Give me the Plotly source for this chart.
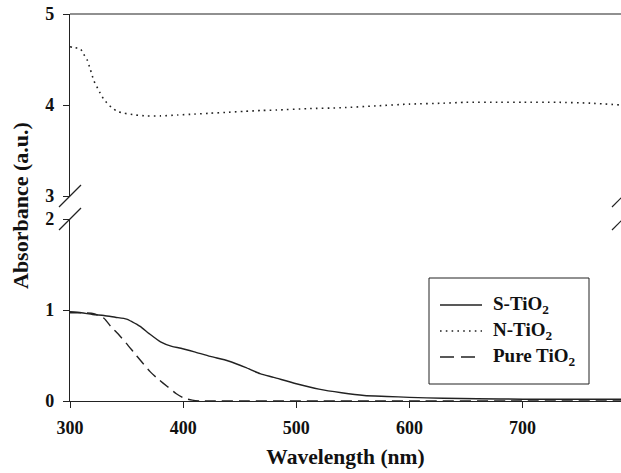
import plotly.graph_objects as go

# UV-Vis absorbance spectra (wavelength in nm)
s_wl = [300, 310, 320, 330, 340, 350, 355, 362, 370, 380, 390, 398, 410, 424, 440, 455, 468, 480,
        500, 520, 540, 560, 580, 600, 630, 660, 700, 740, 787]
s_abs = [0.98, 0.97, 0.95, 0.94, 0.92, 0.90, 0.87, 0.82, 0.74, 0.65, 0.60, 0.58, 0.54, 0.49, 0.44,
         0.37, 0.30, 0.26, 0.19, 0.13, 0.09, 0.06, 0.05, 0.04, 0.03, 0.025, 0.02, 0.02, 0.02]

n_wl = [300, 303, 309, 312, 315, 318, 321, 325, 330, 337, 342, 348, 358, 367, 380, 395, 410, 424,
        440, 454, 470, 483, 510, 540, 570, 600, 630, 650, 680, 700, 730, 760, 787]
n_abs = [4.64, 4.63, 4.62, 4.56, 4.50, 4.39, 4.27, 4.17, 4.06, 3.97, 3.93, 3.91, 3.89, 3.88, 3.88,
         3.89, 3.90, 3.91, 3.92, 3.93, 3.94, 3.945, 3.96, 3.97, 3.99, 4.01, 4.02, 4.03, 4.03, 4.03,
         4.03, 4.02, 4.0]

p_wl = [300, 310, 321, 330, 336, 343, 350, 356, 362, 371, 378, 386, 394, 401, 408, 415, 425, 450,
        500, 600, 700, 787]
p_abs = [0.97, 0.97, 0.96, 0.91, 0.82, 0.73, 0.63, 0.54, 0.45, 0.32, 0.24, 0.16, 0.08, 0.03, 0.01,
         0.0, 0.0, 0.0, 0.0, 0.0, 0.0, 0.0]

series_names = ["S-TiO<sub>2</sub>", "N-TiO<sub>2</sub>", "Pure TiO<sub>2</sub>"]

x_ticks = [300, 400, 500, 600, 700]
y_low_ticks = [0, 1, 2]
y_high_ticks = [3, 4, 5]

FONT = "Liberation Serif"
INK = "#222222"
TXT = "#111111"

styles = [
    dict(color=INK, width=1.4),
    dict(color=INK, width=1.6, dash="1.6px,4.2px"),
    dict(color=INK, width=1.4, dash="11px,6px"),
]
legend_dash = [None, "1.6px,4.2px", "14px,7px"]

fig = go.Figure()
fig.add_trace(go.Scatter(x=s_wl, y=s_abs, mode="lines", name=series_names[0],
                         line=dict(**styles[0], shape="spline", smoothing=0.6),
                         xaxis="x", yaxis="y"))
fig.add_trace(go.Scatter(x=n_wl, y=n_abs, mode="lines", name=series_names[1],
                         line=dict(**styles[1], shape="spline", smoothing=0.6),
                         xaxis="x", yaxis="y2"))
fig.add_trace(go.Scatter(x=p_wl, y=p_abs, mode="lines", name=series_names[2],
                         line=dict(**styles[2], shape="spline", smoothing=0.6),
                         xaxis="x", yaxis="y"))

# plot area in pixels
L, T, W, H = 70, 14, 551, 387
gap_lo = 182 / H
gap_hi = 205 / H


def px(x):
    return (x - L) / W


def py(y):
    return 1 - (y - T) / H


tick_font = dict(family=FONT, size=18, color=TXT, weight="bold")
axis_common = dict(showline=True, linecolor=INK, linewidth=1.2, ticks="outside", ticklen=6,
                   tickcolor=INK, showgrid=False, zeroline=False, tickfont=tick_font)

fig.update_layout(
    width=621, height=473,
    margin=dict(l=L, r=621 - L - W, t=T, b=473 - T - H),
    paper_bgcolor="white", plot_bgcolor="white",
    font=dict(family=FONT, color=TXT),
    showlegend=False,
    xaxis=dict(range=[300, 787], tickvals=x_ticks, anchor="y", ticklabelstandoff=4,
               title=dict(text="Wavelength (nm)", font=dict(family=FONT, size=21.5, weight="bold"),
                          standoff=12),
               **axis_common),
    yaxis=dict(range=[0, 2], tickvals=y_low_ticks, domain=[0, gap_lo], anchor="x",
               ticklabelstandoff=5, **axis_common),
    yaxis2=dict(range=[3, 5], tickvals=y_high_ticks, domain=[gap_hi, 1], anchor="x",
                ticklabelstandoff=5, **axis_common),
)

# Axis title for the broken y axis, centred on the full plot height
fig.add_annotation(text="Absorbance (a.u.)", xref="paper", yref="paper",
                   x=px(20), y=py(206), xanchor="center", yanchor="middle",
                   textangle=-90, showarrow=False,
                   font=dict(family=FONT, size=22, color=TXT, weight="bold"))

# Top border of the plot area
fig.add_shape(type="line", xref="paper", yref="paper", x0=0, x1=1, y0=1, y1=1,
              line=dict(color=INK, width=1.2))

# Break marks on both sides at the axis break
for xc in [0, px(623)]:
    for yc in [gap_lo, gap_hi]:
        fig.add_shape(type="line", xref="paper", yref="paper",
                      x0=xc - 11 / W, x1=xc + 11 / W,
                      y0=yc - 11 / H, y1=yc + 11 / H,
                      line=dict(color=INK, width=1.2))

# Legend box with line samples and labels
fig.add_shape(type="rect", xref="paper", yref="paper", layer="above",
              x0=px(429), x1=px(589), y0=py(384), y1=py(278),
              line=dict(color=INK, width=1), fillcolor="white")
entry_y = [305, 331, 357]
for name, st, dsh, yy in zip(series_names, styles, legend_dash, entry_y):
    ln = dict(color=st["color"], width=st["width"])
    if dsh:
        ln["dash"] = dsh
    fig.add_shape(type="line", xref="paper", yref="paper", layer="above",
                  x0=px(440), x1=px(482), y0=py(yy), y1=py(yy), line=ln)
    fig.add_annotation(text=name, xref="paper", yref="paper", x=px(491), y=py(yy),
                       xanchor="left", yanchor="middle", showarrow=False,
                       font=dict(family=FONT, size=19, color=TXT, weight="bold"))

fig.write_html("out.html")
